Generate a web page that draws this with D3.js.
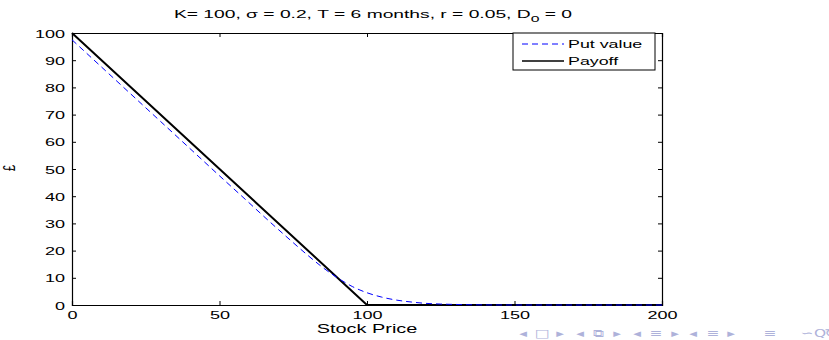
<html>
<head>
<script src="https://d3js.org/d3.v7.min.js"></script>
<style>
  body { margin: 0; background: white; }
  text { font-family: "Liberation Sans", Arial, sans-serif; }
</style>
</head>
<body>
<svg width="829" height="340"></svg>
<script>
// values
var stock = [0,10,20,30,40,50,60,65,70,75,80,85,90,95,100,105,110,115,120,125,130,140,150,160,200];
var putValue = [97.5,87.5,77.5,67.5,57.5,47.5,37.6,32.6,27.7,22.9,18.2,13.8,10.0,6.8,4.5,2.9,1.8,1.1,0.6,0.35,0.2,0.05,0.01,0,0];
var payoffX = [0,100,200];
var payoffY = [100,0,0];
var xTicks = [0,50,100,150,200];
var yTicks = [0,10,20,30,40,50,60,70,80,90,100];
var navGlyphs = ["◂","□","▸","◂","⧉","▸","◂","≡","▸","◂","≡","▸","≡","∽","Q","↻"];
var navPos = [523,542,560,580,598,617,637,656,675,693,713,731,770,807,820,831];

var svg = d3.select("svg");
var plotLeft = 72, plotRight = 662, plotTop = 33, plotBottom = 305;
var xs = d3.scaleLinear().domain([0,200]).range([plotLeft,plotRight]);
var ys = d3.scaleLinear().domain([0,100]).range([plotBottom,plotTop]);

// the slide fonts look stretched sideways; scale text horizontally
function wide(sel, x, y, s) {
  sel.attr("x",0).attr("y",0).attr("dy",0)
    .attr("transform","translate("+x+","+y+") scale("+s+",1)");
}

// axes box with inward ticks
svg.append("g").attr("transform","translate(0,"+plotBottom+")")
  .call(d3.axisBottom(xs).tickValues(xTicks).tickSize(-4).tickFormat(d3.format("d")))
  .call(function(g){
    g.selectAll("text").style("font-size","11px").attr("fill","black")
      .each(function(){ wide(d3.select(this),0,14,1.64); });
  });
svg.append("g").attr("transform","translate(0,"+plotTop+")")
  .call(d3.axisTop(xs).tickValues(xTicks).tickSize(-4).tickFormat(""));
svg.append("g").attr("transform","translate("+plotLeft+",0)")
  .call(d3.axisLeft(ys).tickValues(yTicks).tickSize(-4).tickFormat(d3.format("d")))
  .call(function(g){
    g.selectAll("text").style("font-size","11px").attr("fill","black")
      .each(function(){ wide(d3.select(this),-7,4,1.64); });
  });
svg.append("g").attr("transform","translate("+plotRight+",0)")
  .call(d3.axisRight(ys).tickValues(yTicks).tickSize(-4).tickFormat(""));
svg.selectAll(".domain").attr("stroke","black").attr("stroke-width",1.2);
svg.selectAll(".tick line").attr("stroke","black");

var line = d3.line().x(function(d){ return xs(d[0]); }).y(function(d){ return ys(d[1]); });

svg.append("path")
  .datum(d3.zip(payoffX,payoffY))
  .attr("d",line)
  .attr("fill","none")
  .attr("stroke","black")
  .attr("stroke-width",2);

svg.append("path")
  .datum(d3.zip(stock,putValue))
  .attr("d",line.curve(d3.curveMonotoneX))
  .attr("fill","none")
  .attr("stroke","#0000ff")
  .attr("stroke-width",1)
  .attr("stroke-dasharray","6,4");

// title
var title = svg.append("text")
  .attr("text-anchor","middle")
  .style("font-size","11px");
title.append("tspan").text("K= 100, σ = 0.2, T = 6 months, r = 0.05, D");
title.append("tspan").attr("dy",4).style("font-size","9px").text("0");
title.append("tspan").attr("dy",-4).text(" = 0");
wide(title, 373, 18, 1.75);

// axis labels
wide(svg.append("text")
  .attr("text-anchor","middle")
  .style("font-size","12px")
  .text("Stock Price"), 367, 333, 1.66);
svg.append("text")
  .attr("transform","translate(15,168) rotate(-90) scale(1,1.5)")
  .attr("text-anchor","middle")
  .style("font-size","11px")
  .text("£");

// legend
svg.append("rect")
  .attr("x",513).attr("y",33)
  .attr("width",142).attr("height",37)
  .attr("fill","white").attr("stroke","black").attr("stroke-width",1);
svg.append("line")
  .attr("x1",522).attr("x2",564).attr("y1",44).attr("y2",44)
  .attr("stroke","#0000ff").attr("stroke-dasharray","6,4");
svg.append("line")
  .attr("x1",522).attr("x2",564).attr("y1",61).attr("y2",61)
  .attr("stroke","black").attr("stroke-width",1.5);
wide(svg.append("text").style("font-size","11.5px").text("Put value"), 568, 48, 1.55);
wide(svg.append("text").style("font-size","11.5px").text("Payoff"), 568, 65, 1.55);

// navigation symbols
svg.selectAll(".nav").data(navGlyphs).enter().append("text")
  .attr("class","nav")
  .attr("text-anchor","middle")
  .attr("fill","#aeb2da")
  .style("font-family","DejaVu Sans")
  .style("font-size","11px")
  .text(function(d){ return d; })
  .each(function(d,i){ wide(d3.select(this), navPos[i], 337, 1.4); });
</script>
</body>
</html>
